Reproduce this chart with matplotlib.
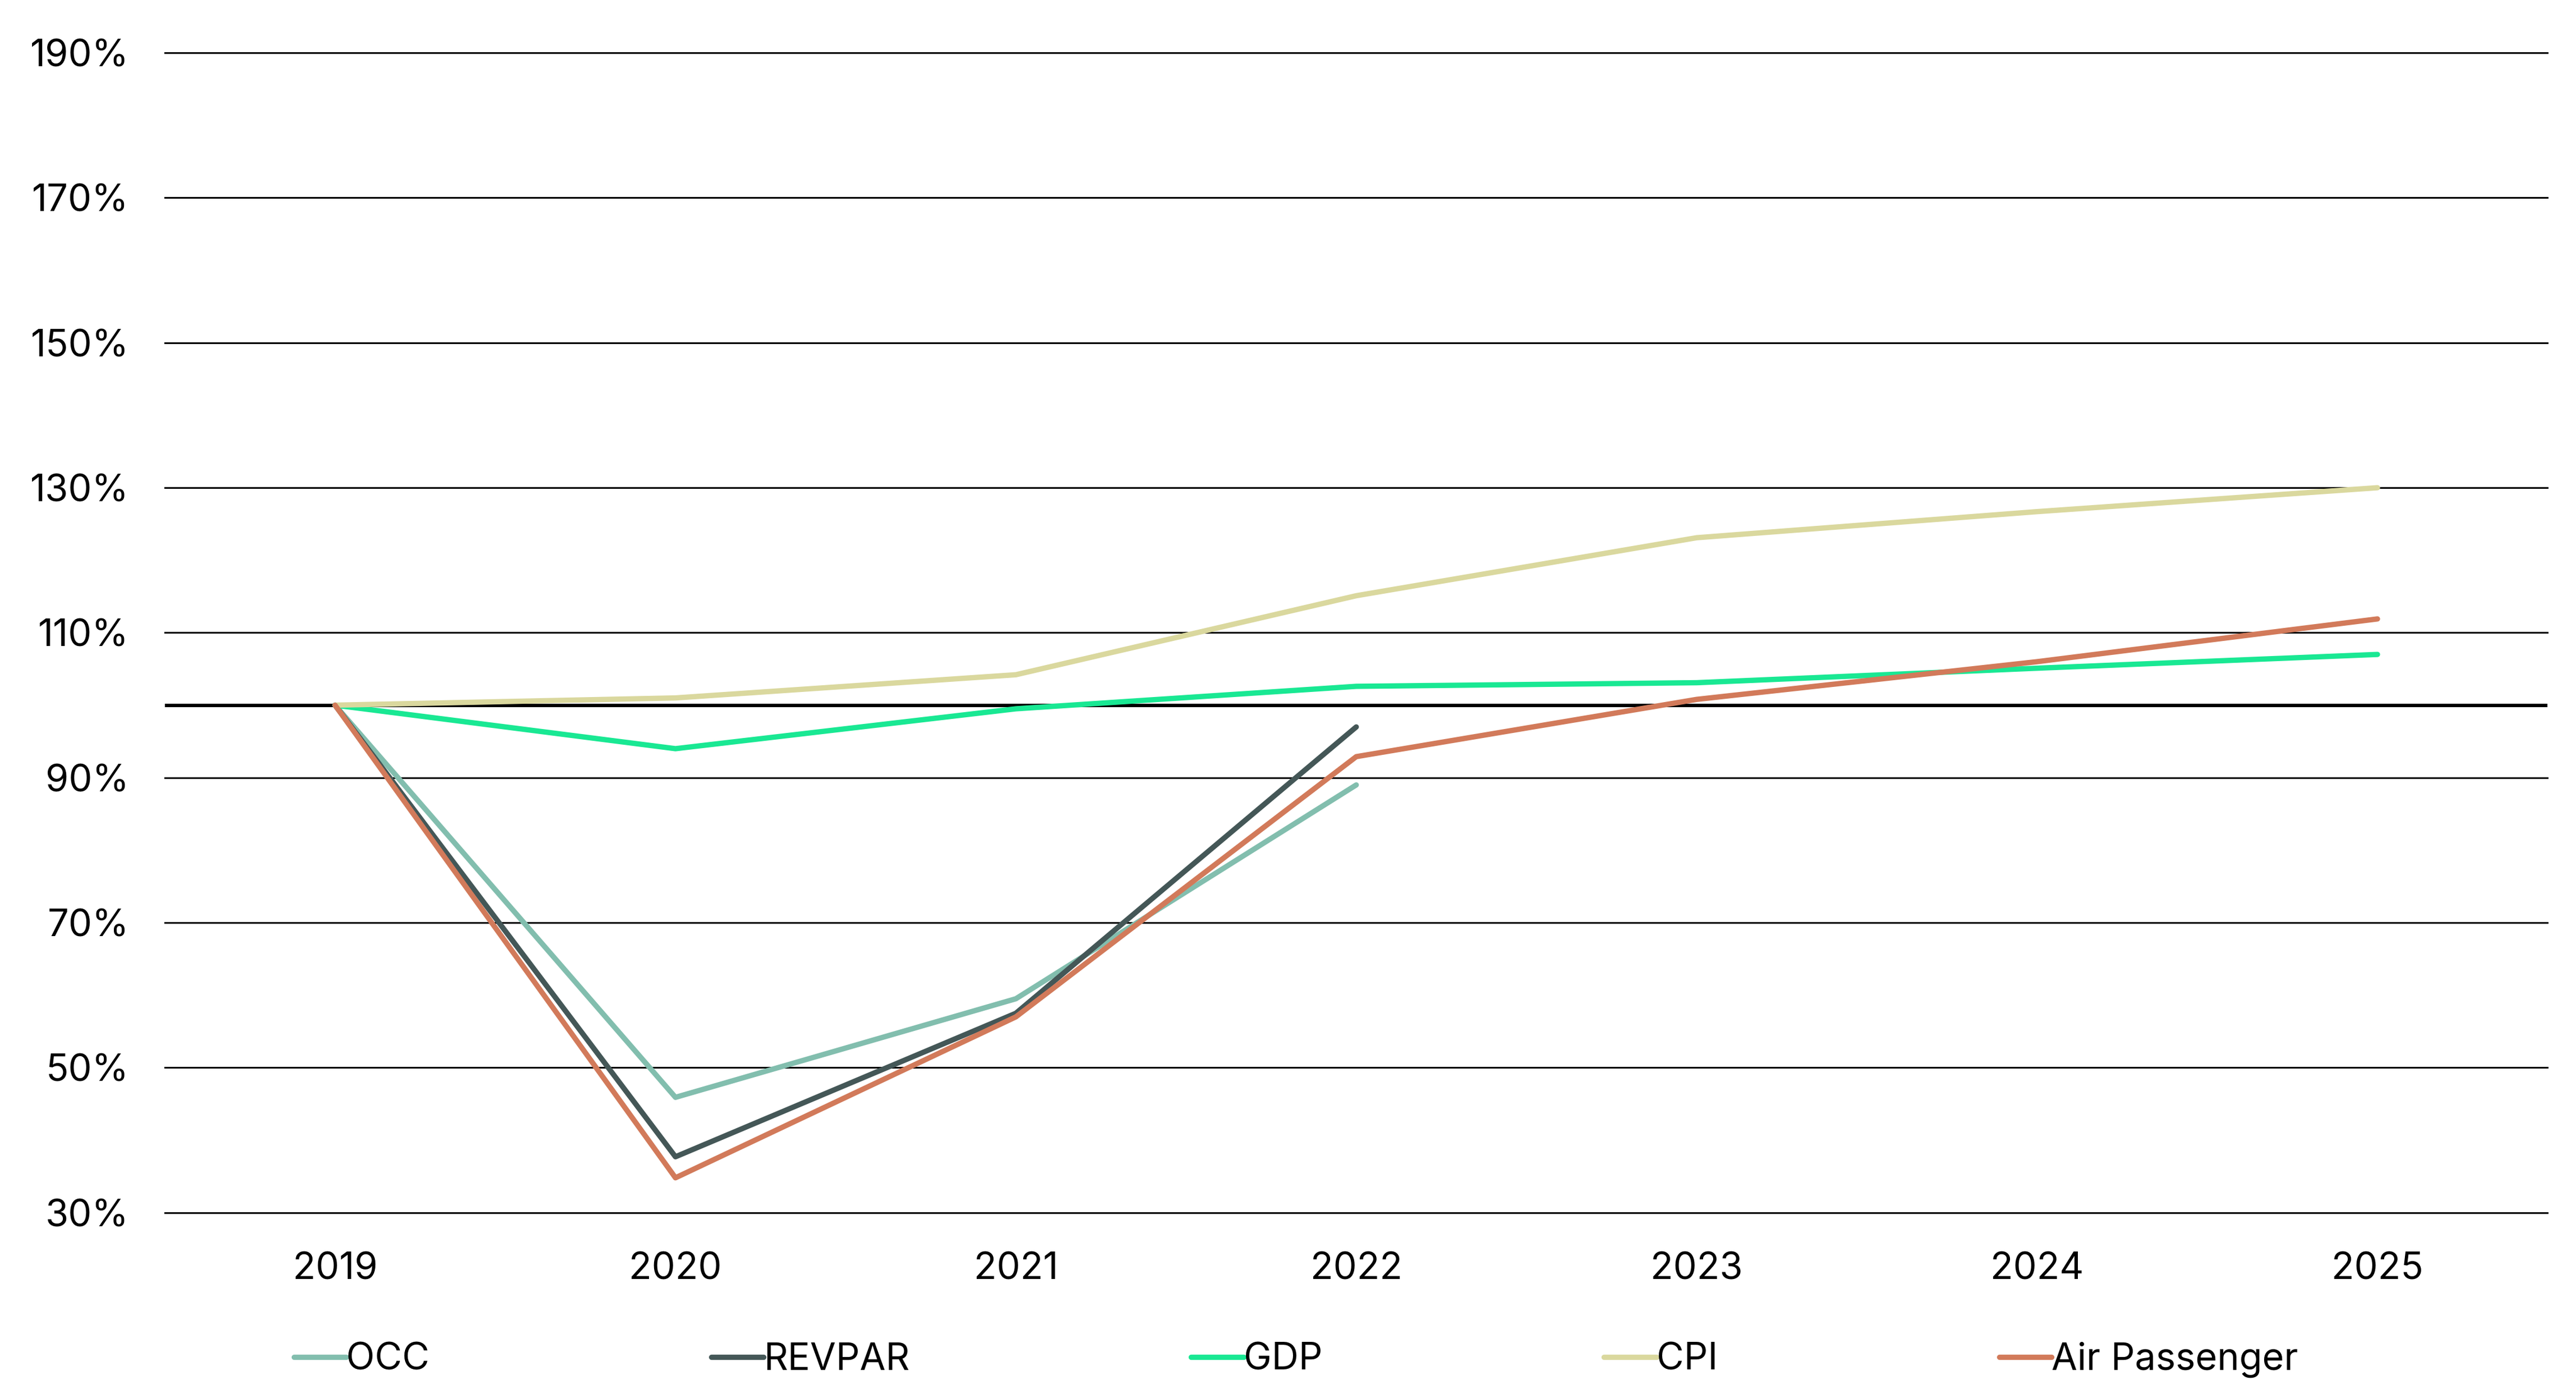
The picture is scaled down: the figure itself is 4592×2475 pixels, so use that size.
import numpy as np
import matplotlib.pyplot as plt

# data (index, 2019 = 100%)
years = ["2019", "2020", "2021", "2022", "2023", "2024", "2025"]
occ = [100, 45.9, 59.5, 89.0]
revpar = [100, 37.7, 57.5, 97.0]
gdp = [100, 94.0, 99.5, 102.6, 103.1, 105.1, 107.0]
cpi = [100, 101.0, 104.2, 115.1, 123.1, 126.7, 130.0]
air = [100, 34.8, 57.0, 92.9, 100.8, 106.0, 111.9]
yticks = [30, 50, 70, 90, 110, 130, 150, 170, 190]

plt.rcParams['font.family'] = ['Inter', 'DejaVu Sans']

fig = plt.figure(figsize=(22.96, 12.375), dpi=200)
ax = fig.add_axes([0.064, 0.127, 0.925, 0.835])

x = np.arange(len(years))
lw = 3.4
ax.plot(x[:len(occ)], occ, color="#82BEAE", lw=lw, solid_capstyle="round", label="OCC", zorder=3)
ax.plot(x[:len(revpar)], revpar, color="#445757", lw=lw, solid_capstyle="round", label="REVPAR", zorder=3)
ax.plot(x, gdp, color="#19E893", lw=lw, solid_capstyle="round", label="GDP", zorder=3)
ax.plot(x, cpi, color="#DAD89E", lw=lw, solid_capstyle="round", label="CPI", zorder=3)
ax.plot(x, air, color="#D27A5A", lw=lw, solid_capstyle="round", label="Air Passenger", zorder=3)

# gridlines and 100% reference line
for t in yticks:
    ax.axhline(t, color="black", lw=1.1, zorder=1, clip_on=False)
ax.axhline(100, color="black", lw=2.2, zorder=2)

ax.set_xlim(-0.5, 6.5)
ax.set_ylim(30, 190)
ax.set_xticks(x)
ax.set_xticklabels(years)
ax.set_yticks(yticks)
ax.set_yticklabels([f"{t}%" for t in yticks])
ax.tick_params(axis="both", length=0, labelsize=24)
ax.tick_params(axis="y", pad=23)
ax.tick_params(axis="x", pad=25)
for s in ax.spines.values():
    s.set_visible(False)

fig.legend(loc="center left", bbox_to_anchor=(0.101, 0.021), ncol=5, frameon=False,
           fontsize=24, handlelength=1.4, handletextpad=0.0, columnspacing=7.53)

fig.savefig("out.png", dpi=200, facecolor="white")
